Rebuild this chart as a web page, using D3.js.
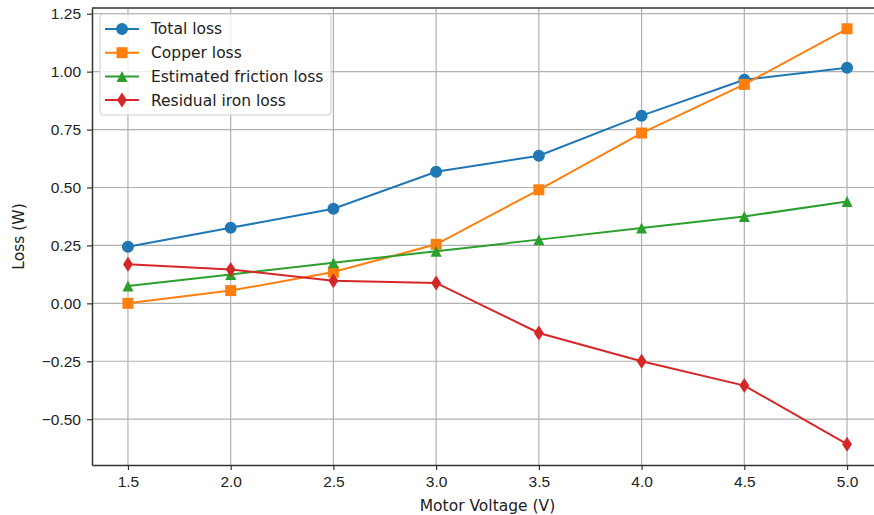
<!DOCTYPE html>
<html>
<head>
<meta charset="utf-8">
<script src="https://cdn.jsdelivr.net/npm/d3@7"></script>
<style>
  body { margin: 0; background: #fff; }
  svg { font-family: "DejaVu Sans", sans-serif; }
</style>
</head>
<body>
<div id="chart"></div>
<script>
const voltages = [1.5, 2.0, 2.5, 3.0, 3.5, 4.0, 4.5, 5.0];
const totalLoss = [0.244, 0.326, 0.408, 0.568, 0.637, 0.810, 0.965, 1.017];
const copperLoss = [0.000, 0.055, 0.135, 0.255, 0.490, 0.735, 0.945, 1.185];
const frictionLoss = [0.075, 0.125, 0.175, 0.225, 0.275, 0.325, 0.375, 0.440];
const ironLoss = [0.169, 0.146, 0.098, 0.088, -0.128, -0.250, -0.355, -0.608];
const xTicks = [1.5, 2.0, 2.5, 3.0, 3.5, 4.0, 4.5, 5.0];
const yTicks = [-0.5, -0.25, 0, 0.25, 0.5, 0.75, 1.0, 1.25];

const series = [
    { name: "Total loss", values: totalLoss, color: "#1f77b4", marker: "circle" },
    { name: "Copper loss", values: copperLoss, color: "#ff7f0e", marker: "square" },
    { name: "Estimated friction loss", values: frictionLoss, color: "#2ca02c", marker: "triangle" },
    { name: "Residual iron loss", values: ironLoss, color: "#d62728", marker: "diamond" }
];

const width = 874, height = 515;
const margin = { top: 8, right: -9, bottom: 50, left: 92 };
const fontSize = "15.5px";

const svg = d3.select("#chart").append("svg")
    .attr("width", width)
    .attr("height", height);

const x = d3.scaleLinear()
    .domain([1.325, 5.175])
    .range([margin.left, width - margin.right]);

const y = d3.scaleLinear()
    .domain([-0.6977, 1.2747])
    .range([height - margin.bottom, margin.top]);

// grid
svg.append("g")
    .selectAll("line")
    .data(xTicks)
    .enter().append("line")
    .attr("x1", d => x(d)).attr("x2", d => x(d))
    .attr("y1", y.range()[0]).attr("y2", y.range()[1])
    .attr("stroke", "#b0b0b0").attr("stroke-width", 1.2);

svg.append("g")
    .selectAll("line")
    .data(yTicks)
    .enter().append("line")
    .attr("x1", x.range()[0]).attr("x2", x.range()[1])
    .attr("y1", d => y(d)).attr("y2", d => y(d))
    .attr("stroke", "#b0b0b0").attr("stroke-width", 1.2);

// axes
const xAxis = svg.append("g")
    .attr("transform", `translate(0,${height - margin.bottom})`)
    .call(d3.axisBottom(x).tickValues(xTicks).tickFormat(d3.format(".1f"))
        .tickSizeInner(5).tickSizeOuter(0).tickPadding(6));

const yAxis = svg.append("g")
    .attr("transform", `translate(${margin.left},0)`)
    .call(d3.axisLeft(y).tickValues(yTicks).tickFormat(d => d3.format(".2f")(d).replace("-", "\u2212"))
        .tickSizeInner(5).tickSizeOuter(0).tickPadding(6));

[xAxis, yAxis].forEach(g => {
    g.selectAll("text").style("font-size", fontSize).attr("fill", "#222");
    g.selectAll("line").attr("stroke", "#333").attr("stroke-width", 1.2);
    g.select(".domain").attr("stroke", "#333").attr("stroke-width", 1.5);
});

// top and right spines (right one falls off the canvas)
svg.append("line")
    .attr("x1", x.range()[0]).attr("x2", x.range()[1])
    .attr("y1", y.range()[1]).attr("y2", y.range()[1])
    .attr("stroke", "#333").attr("stroke-width", 1.5);
svg.append("line")
    .attr("x1", x.range()[1]).attr("x2", x.range()[1])
    .attr("y1", y.range()[0]).attr("y2", y.range()[1])
    .attr("stroke", "#333").attr("stroke-width", 1.5);

// matplotlib style markers
const thinDiamond = {
    draw(ctx, size) {
        const h = Math.sqrt(size) * 0.75, w = h * 0.66;
        ctx.moveTo(0, -h); ctx.lineTo(w, 0); ctx.lineTo(0, h); ctx.lineTo(-w, 0); ctx.closePath();
    }
};
const upTriangle = {
    draw(ctx, size) {
        const r = Math.sqrt(size) / 2;
        ctx.moveTo(0, -r); ctx.lineTo(r, r); ctx.lineTo(-r, r); ctx.closePath();
    }
};

const markerPath = {
    circle: d3.symbol().type(d3.symbolCircle).size(113),
    square: d3.symbol().type(d3.symbolSquare).size(121),
    triangle: d3.symbol().type(upTriangle).size(121),
    diamond: d3.symbol().type(thinDiamond).size(100)
};

function drawMarker(g, s, cx, cy) {
    g.append("path")
        .attr("d", markerPath[s.marker]())
        .attr("fill", s.color)
        .attr("transform", `translate(${cx},${cy})`);
}

const line = d3.line()
    .x((d, i) => x(voltages[i]))
    .y(d => y(d));

series.forEach(s => {
    svg.append("path")
        .datum(s.values)
        .attr("fill", "none")
        .attr("stroke", s.color)
        .attr("stroke-width", 2)
        .attr("d", line);
    const g = svg.append("g");
    s.values.forEach((v, i) => drawMarker(g, s, x(voltages[i]), y(v)));
});

// legend
const legend = svg.append("g");
legend.append("rect")
    .attr("x", 100).attr("y", 14)
    .attr("width", 231).attr("height", 101)
    .attr("rx", 3)
    .attr("fill", "#fff").attr("fill-opacity", 0.8)
    .attr("stroke", "#ccc").attr("stroke-width", 1);

series.forEach((s, i) => {
    const ly = 29 + i * 23.7;
    legend.append("line")
        .attr("x1", 105).attr("x2", 139)
        .attr("y1", ly).attr("y2", ly)
        .attr("stroke", s.color).attr("stroke-width", 2);
    drawMarker(legend, s, 122, ly);
    legend.append("text")
        .attr("x", 151).attr("y", ly)
        .attr("dy", "0.35em")
        .style("font-size", fontSize)
        .attr("fill", "#222")
        .text(s.name);
});

// axis labels
svg.append("text")
    .attr("x", (x.range()[0] + x.range()[1]) / 2)
    .attr("y", 511)
    .attr("text-anchor", "middle")
    .style("font-size", fontSize)
    .attr("fill", "#222")
    .text("Motor Voltage (V)");

svg.append("text")
    .attr("transform", `translate(24,${(y.range()[0] + y.range()[1]) / 2}) rotate(-90)`)
    .attr("text-anchor", "middle")
    .style("font-size", fontSize)
    .attr("fill", "#222")
    .text("Loss (W)");
</script>
</body>
</html>
